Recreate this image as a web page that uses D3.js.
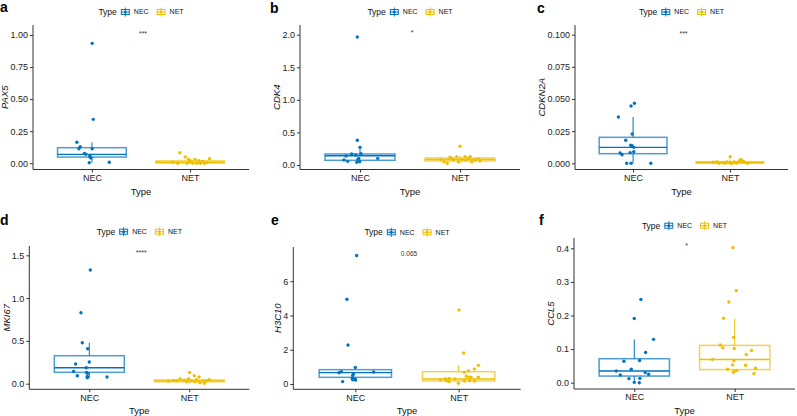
<!DOCTYPE html>
<html><head><meta charset="utf-8">
<script src="https://cdn.jsdelivr.net/npm/d3@7"></script>
<style>
body{margin:0;background:#fff}
svg{display:block}
text{font-family:"Liberation Sans",Arial,Helvetica,sans-serif}
</style>
</head><body>
<svg id="chart" width="797" height="416"></svg>
<script>
const groups = ["NEC", "NET"];
const groupColors = ["#0073C2", "#EFC000"];

// ---- a: PAX5 ----
const pax5NEC = [0.935,0.342,0.163,0.129,0.113,0.113,0.077,0.069,0.061,0.048,0.041,0.004,0.007];
const pax5NECJitter = [0.003,0.014,-0.153,-0.119,-0.132,0.003,-0.075,-0.061,-0.02,-0.02,-0.01,-0.027,0.177];
const pax5NET = [0.082,0.048,0.030,0.030,0.035,0.017,0.019,0.015,0.007,0.0,0.0,0.0,0.0,0.0,0.0,0.005,0.009,0.005];
const pax5NETJitter = [-0.105,-0.048,-0.017,0.051,0.197,0.01,0.088,0.129,-0.177,-0.126,-0.031,0.027,0.068,0.105,0.146,0.173,-0.007,0.095];
const pax5NECBox = [0.004,0.048,0.069,0.121,0.163];   // low whisker, q1, median, q3, high whisker
const pax5NETBox = [0.0,0.002,0.008,0.018,0.035];
const pax5Ticks = [0,0.25,0.5,0.75,1.0];

// ---- b: CDK4 ----
const cdk4NEC = [1.965,0.379,0.271,0.174,0.169,0.153,0.138,0.102,0.077,0.056,0.087,0.041,0.051,0.102];
const cdk4NECJitter = [-0.027,-0.027,0,0.01,-0.083,-0.043,-0.14,0.177,-0.16,-0.123,-0.02,-0.033,-0.003,-0.013];
const cdk4NET = [0.287,0.087,0.051,0.026,0.118,0.077,0.128,0.087,0.128,0.077,0.107,0.128,0.051,0.077,0.092,0.061,0.051,0.102];
const cdk4NETJitter = [0,-0.193,-0.16,-0.127,-0.1,-0.067,-0.033,0.017,0.05,0.057,0.083,0.103,0.117,0.15,0.183,0.2,-0.017,-0.083];
const cdk4NECBox = [0.041,0.072,0.143,0.169,0.271];
const cdk4NETBox = [0.026,0.062,0.085,0.108,0.138];
const cdk4Ticks = [0,0.5,1.0,1.5,2.0];

// ---- c: CDKN2A ----
const cdkn2aNEC = [0.0467,0.0446,0.036,0.0228,0.0179,0.014,0.0137,0.0124,0.009,0.0083,0.008,0.0067,0,0,0];
const cdkn2aNECJitter = [0.014,-0.021,-0.152,-0.01,-0.076,-0.024,-0.01,0.007,0.007,-0.031,-0.134,-0.114,-0.066,-0.021,0.183];
const cdkn2aNET = [0.0051,0.0031,0.0021,0.0008,0.0013,0.0005,0.0010,0.0010,0.0002,0.0008,0,0,0,0.0002,0.0015,0,0.0013];
const cdkn2aNETJitter = [0.003,0.11,0.128,-0.172,-0.134,-0.072,-0.031,0.045,0.072,0.152,0.183,-0.114,-0.048,0.003,0.093,0.021,0.141];
const cdkn2aNECBox = [0,0.0075,0.0124,0.0202,0.036];
const cdkn2aNETBox = [0,0.0001,0.0006,0.0013,0.0031];
const cdkn2aTicks = [0,0.025,0.05,0.075,0.1];

// ---- d: MKI67 ----
const mki67NEC = [1.328,0.829,0.479,0.409,0.253,0.230,0.187,0.144,0.132,0.121,0.093,0.086,0.070,0.078];
const mki67NECJitter = [0.01,-0.083,-0.07,-0.017,0,-0.137,-0.03,-0.157,-0.027,-0.017,-0.12,-0.02,-0.02,0.177];
const mki67NET = [0.132,0.093,0.078,0.058,0.039,0.035,0.043,0.023,0.035,0.023,0.047,0.012,0.004,0.035,0.047,0.031,0.055,0.031];
const mki67NETJitter = [0.003,0.05,0.097,-0.093,-0.16,-0.127,-0.053,-0.027,0.023,0.057,0.073,0.107,0.15,0.173,0.2,-0.21,-0.01,0.14];
const mki67NECBox = [0.07,0.133,0.187,0.327,0.479];
const mki67NETBox = [0.004,0.023,0.033,0.044,0.078];
const mki67Ticks = [0,0.5,1.0,1.5];

// ---- e: H3C10 ----
const h3c10NEC = [7.50,4.95,2.28,0.97,0.72,0.66,0.70,0.58,0.49,0.33,0.29,0.25,0.23,0.14];
const h3c10NECJitter = [0.013,-0.081,-0.071,0,-0.135,-0.158,0.177,-0.019,-0.026,-0.029,-0.003,-0.026,0.003,-0.123];
const h3c10NET = [4.32,1.81,1.09,0.88,0.78,0.68,0.45,0.39,0.39,0.25,0.29,0.33,0.29,0.04,0.175,0.175,0.14,0.19,0.39,0.19];
const h3c10NETJitter = [0.003,0.048,0.19,0.152,0.094,0.055,0.074,0.119,0.19,-0.177,-0.132,-0.094,-0.035,-0.003,0.055,0.152,-0.09,0.106,0.1,-0.115];
const h3c10NECBox = [0.14,0.389,0.662,0.837,0.97];
const h3c10NETBox = [0.04,0.175,0.29,0.72,1.09];
const h3c10Ticks = [0,2,4,6];

// ---- f: CCL5 ----
const ccl5NEC = [0.248,0.191,0.129,0.090,0.066,0.064,0.040,0.035,0.030,0.025,0.023,0.012,0.013,0.001,0.0];
const ccl5NECJitter = [0.066,0,0.192,0.113,0.053,-0.103,-0.03,-0.179,0.109,0.143,-0.139,-0.053,0.056,0,0.05];
const ccl5NET = [0.402,0.274,0.240,0.192,0.135,0.112,0.104,0.102,0.096,0.084,0.069,0.065,0.052,0.053,0.043,0.040,0.036,0.033,0.031,0.027];
const ccl5NETJitter = [-0.018,0.015,-0.058,-0.111,-0.012,-0.144,-0.118,-0.005,0.167,0.114,-0.221,-0.008,0.108,-0.022,0.207,-0.071,0.022,-0.008,-0.015,0.191];
const ccl5NECBox = [0,0.0198,0.0347,0.0714,0.129];
const ccl5NETBox = [0.027,0.039,0.069,0.111,0.191];
const ccl5Ticks = [0,0.1,0.2,0.3,0.4];

// significance labels
const sigLabels = ["***", "*", "***", "****", "0.065", "*"];
const sigLabelY = [1.026, 2.057, 0.1023, 1.55, 7.61, 0.413];

// layout
const panels = [
  {letter:"a", gene:"PAX5",   vals:[pax5NEC,pax5NET], jit:[pax5NECJitter,pax5NETJitter], box:[pax5NECBox,pax5NETBox], ticks:pax5Ticks, fmt:".2f", domain:[-0.049,1.078], left:33, right:249, top:25, bottom:169.5, legendY:12, lx:0, ly:12},
  {letter:"b", gene:"CDK4",   vals:[cdk4NEC,cdk4NET], jit:[cdk4NECJitter,cdk4NETJitter], box:[cdk4NECBox,cdk4NETBox], ticks:cdk4Ticks, fmt:".1f", domain:[-0.069,2.149], left:300, right:520, top:25, bottom:169.5, legendY:12, lx:270, ly:12.5},
  {letter:"c", gene:"CDKN2A", vals:[cdkn2aNEC,cdkn2aNET], jit:[cdkn2aNECJitter,cdkn2aNETJitter], box:[cdkn2aNECBox,cdkn2aNETBox], ticks:cdkn2aTicks, fmt:".3f", domain:[-0.0048,0.1075], left:575, right:788, top:25, bottom:169.5, legendY:12, lx:537, ly:12.5},
  {letter:"d", gene:"MKI67",  vals:[mki67NEC,mki67NET], jit:[mki67NECJitter,mki67NETJitter], box:[mki67NECBox,mki67NETBox], ticks:mki67Ticks, fmt:".1f", domain:[-0.0654,1.609], left:29.3, right:249.3, top:246, bottom:389.3, legendY:231.7, lx:0, ly:225},
  {letter:"e", gene:"H3C10",  vals:[h3c10NEC,h3c10NET], jit:[h3c10NECJitter,h3c10NETJitter], box:[h3c10NECBox,h3c10NETBox], ticks:h3c10Ticks, fmt:"d", domain:[-0.31,8.0], left:293.3, right:520.7, top:247, bottom:389.3, legendY:232.3, lx:271, ly:225},
  {letter:"f", gene:"CCL5",   vals:[ccl5NEC,ccl5NET], jit:[ccl5NECJitter,ccl5NETJitter], box:[ccl5NECBox,ccl5NETBox], ticks:ccl5Ticks, fmt:".1f", domain:[-0.01875,0.4307], left:574, right:795, top:238, bottom:389, legendY:225.7, lx:539, ly:225}
];

const svg = d3.select("#chart");
const axisColor = "#333";
const textColor = "#222";

panels.forEach((p, pi) => {
  const g = svg.append("g");
  const x = d3.scalePoint().domain(groups).range([p.left, p.right]).padding(0.6);
  const y = d3.scaleLinear().domain(p.domain).range([p.bottom, p.top]);
  const step = x.step();
  const boxW = 0.7 * step;

  // boxes
  groups.forEach((grp, gi) => {
    const b = p.box[gi];
    const cx = x(grp);
    const col = groupColors[gi];
    const bg = g.append("g");
    bg.append("line").attr("x1", cx).attr("x2", cx).attr("y1", y(b[3])).attr("y2", y(b[4]))
      .attr("stroke", col).attr("stroke-width", 1);
    bg.append("line").attr("x1", cx).attr("x2", cx).attr("y1", y(b[1])).attr("y2", y(b[0]))
      .attr("stroke", col).attr("stroke-width", 1);
    bg.append("rect").attr("x", cx - boxW/2).attr("width", boxW)
      .attr("y", y(b[3])).attr("height", Math.max(0.5, y(b[1]) - y(b[3])))
      .attr("fill", "none")
      .attr("stroke", col).attr("stroke-opacity", 0.7).attr("stroke-width", 1.5);
    bg.append("line").attr("x1", cx - boxW/2).attr("x2", cx + boxW/2).attr("y1", y(b[2])).attr("y2", y(b[2]))
      .attr("stroke", col).attr("stroke-width", 1.4);
  });

  // jittered points
  groups.forEach((grp, gi) => {
    const pts = p.vals[gi].map((v, i) => ({v, j: p.jit[gi][i]}));
    g.append("g").selectAll("circle").data(pts).join("circle")
      .attr("cx", d => x(grp) + d.j * step)
      .attr("cy", d => y(d.v))
      .attr("r", 1.7)
      .attr("fill", groupColors[gi]);
  });

  // y axis
  const yAxis = d3.axisLeft(y).tickValues(p.ticks).tickSize(3).tickPadding(2)
    .tickFormat(d3.format(p.fmt));
  const ya = g.append("g").attr("transform", `translate(${p.left},0)`).call(yAxis);
  ya.select(".domain").attr("d", `M0,${p.bottom}V${p.top}`).attr("stroke", axisColor);
  ya.selectAll(".tick line").attr("stroke", axisColor);
  ya.selectAll(".tick text").attr("fill", textColor).style("font-size", "9px")
    .style("font-family", '"Liberation Sans",Arial,sans-serif');
  let maxW = 0;
  ya.selectAll(".tick text").each(function(){ maxW = Math.max(maxW, this.getComputedTextLength()); });

  // x axis
  const xAxis = d3.axisBottom(x).tickSize(3).tickPadding(2);
  const xa = g.append("g").attr("transform", `translate(0,${p.bottom})`).call(xAxis);
  xa.select(".domain").attr("d", `M${p.left},0H${p.right}`).attr("stroke", axisColor);
  xa.selectAll(".tick line").attr("stroke", axisColor);
  xa.selectAll(".tick text").attr("fill", textColor).style("font-size", "9px")
    .style("font-family", '"Liberation Sans",Arial,sans-serif');

  // axis titles
  const midX = (p.left + p.right) / 2;
  g.append("text").attr("x", midX).attr("y", p.bottom + 25).attr("text-anchor", "middle")
    .attr("fill", "#111").style("font-size", "9.5px").text("Type");
  const ytx = Math.max(8, p.left - 5 - maxW - 2);
  g.append("text").attr("transform", `translate(${ytx},${(p.top + p.bottom)/2}) rotate(-90)`)
    .attr("text-anchor", "middle").attr("fill", "#111").style("font-size", "9.5px")
    .style("font-style", "italic").text(p.gene);

  // significance label
  const lab = sigLabels[pi];
  const isNum = /\d/.test(lab);
  g.append("text").attr("x", midX + 2).attr("y", y(sigLabelY[pi]) + (isNum ? 2.2 : 4))
    .attr("text-anchor", "middle").attr("fill", "#333")
    .style("font-size", isNum ? "6.5px" : "7px").text(lab);

  // panel letter
  g.append("text").attr("x", p.lx).attr("y", p.ly).attr("fill", "#000")
    .style("font-size", "14px").style("font-weight", "bold").text(p.letter);

  // legend
  const lg = g.append("g");
  const title = lg.append("text").attr("x", 0).attr("y", 0).attr("dy", "0.35em")
    .attr("fill", "#111").style("font-size", "8.5px").text("Type");
  let cur = title.node().getComputedTextLength() + 3.5;
  groups.forEach((grp, gi) => {
    const col = groupColors[gi];
    const k = lg.append("g").attr("transform", `translate(${cur},0)`);
    k.append("rect").attr("x", 0).attr("y", -4.5).attr("width", 10).attr("height", 9).attr("fill", "#fff");
    k.append("rect").attr("x", 1).attr("y", -2.5).attr("width", 8).attr("height", 5)
      .attr("fill", "none").attr("stroke", col).attr("stroke-width", 1);
    k.append("line").attr("x1", 5).attr("x2", 5).attr("y1", -4.5).attr("y2", 4.5).attr("stroke", col).attr("stroke-width", 0.9);
    k.append("line").attr("x1", 1).attr("x2", 9).attr("y1", 0).attr("y2", 0).attr("stroke", col).attr("stroke-width", 1);
    k.append("circle").attr("cx", 5).attr("cy", 0).attr("r", 1.5).attr("fill", col);
    cur += 10 + 3.5;
    const t = lg.append("text").attr("x", cur).attr("y", 0).attr("dy", "0.35em")
      .attr("fill", "#111").style("font-size", "7px").text(grp);
    cur += t.node().getComputedTextLength() + (gi === 0 ? 7.5 : 0);
  });
  lg.attr("transform", `translate(${midX - cur/2},${p.legendY})`);
});
</script>
</body></html>
